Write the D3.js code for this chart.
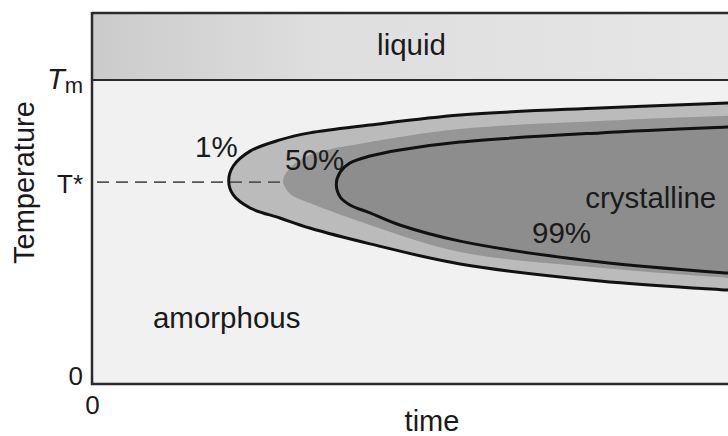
<!DOCTYPE html>
<html><head><meta charset="utf-8">
<script src="https://cdn.jsdelivr.net/npm/d3@7/dist/d3.min.js"></script>
<style>
html,body{margin:0;padding:0;background:#fff;}
svg text{font-family:"Liberation Sans",Arial,Helvetica,sans-serif;fill:#1a1a1a;}
</style></head>
<body>
<svg id="chart" width="728" height="436"></svg>
<script>
// ---- data (time in arbitrary units, temperature with Tm = 100) ----
const tMelt = 100;
const tStar = 66.4;
const tTop = 122;
const timeMax = 100;

// 1% transformation curve (top-right -> nose -> bottom-right)
const curve1 = [[103.1,92.8],[98.1,92.4],[78.4,90.8],[56.8,88.5],[42.9,85.2],[33.6,82.6],[29.0,80.3],[24.4,76.6],[21.8,71.7],[21.1,66.8],[21.8,62.2],[24.4,57.9],[29.0,54.6],[33.6,51.3],[42.9,46.1],[56.8,39.5],[78.4,33.9],[98.1,30.9],[103.1,30.3]];
// 50% transformation boundary
const curve50 = [[103.1,88.5],[98.1,88.2],[78.4,86.5],[56.8,83.9],[42.9,79.6],[33.6,75.3],[30.6,71.1],[29.5,66.8],[30.6,62.5],[33.6,59.5],[42.9,52.3],[56.8,43.4],[78.4,38.2],[98.1,34.9],[103.1,34.2]];
// 99% transformation curve
const curve99 = [[103.1,84.9],[98.1,84.5],[78.4,82.6],[56.8,79.6],[47.5,77.0],[42.9,75.0],[39.8,72.7],[38.3,69.7],[37.7,65.8],[38.3,61.5],[39.8,58.9],[42.9,56.3],[47.5,52.3],[56.8,47.0],[78.4,40.1],[98.1,36.5],[103.1,35.9]];

const yTickValues = [0, tStar, tMelt];
const yTickLabels = ["0", "T*", "Tm"];
const xTickValues = [0];
const xTickLabels = ["0"];

const regionLabels = [
  {text:"liquid", t:44.0, T:108.2},
  {text:"amorphous", t:9.4, T:18.4},
  {text:"1%", t:15.9, T:74.7},
  {text:"50%", t:29.8, T:70.4},
  {text:"crystalline", t:76.1, T:57.9},
  {text:"99%", t:67.9, T:46.4}
];

// ---- layout ----
const svg = d3.select("#chart");
const x = d3.scaleLinear().domain([0, timeMax]).range([92, 740]);
const y = d3.scaleLinear().domain([0, tMelt]).range([384, 80]);

const defs = svg.append("defs");
const grad = defs.append("linearGradient").attr("id","liq").attr("x1","0").attr("x2","1").attr("y1","0").attr("y2","0");
grad.append("stop").attr("offset","0").attr("stop-color","#cbcbcb");
grad.append("stop").attr("offset","0.35").attr("stop-color","#dedede");
grad.append("stop").attr("offset","1").attr("stop-color","#e6e6e6");
defs.append("clipPath").attr("id","plotclip").append("rect")
  .attr("x", x(0)).attr("y", y(tTop)).attr("width", 728 - x(0)).attr("height", y(0) - y(tTop));

// backgrounds
svg.append("rect").attr("x", x(0)).attr("y", y(tMelt)).attr("width", 728 - x(0)).attr("height", y(0) - y(tMelt)).attr("fill", "#f1f1f1");
svg.append("rect").attr("x", x(0)).attr("y", y(tTop)).attr("width", 728 - x(0)).attr("height", y(tMelt) - y(tTop)).attr("fill", "url(#liq)");

const g = svg.append("g").attr("clip-path","url(#plotclip)");
const line = d3.line().x(d => x(d[0])).y(d => y(d[1])).curve(d3.curveCatmullRom.alpha(0.5));

g.append("path").attr("d", line(curve1) + "Z").attr("fill", "#bbbbbb");
g.append("path").attr("d", line(curve50) + "Z").attr("fill", "#969696");
g.append("path").attr("d", line(curve99) + "Z").attr("fill", "#8d8d8d");

// T* dashed line up to the 50% boundary
g.append("line").attr("x1", x(0) + 5).attr("x2", x(curve50[7][0])).attr("y1", y(tStar)).attr("y2", y(tStar))
  .attr("stroke", "#555").attr("stroke-width", 1.6).attr("stroke-dasharray", "12,7");

g.append("path").attr("d", line(curve1)).attr("fill", "none").attr("stroke", "#111").attr("stroke-width", 3);
g.append("path").attr("d", line(curve99)).attr("fill", "none").attr("stroke", "#111").attr("stroke-width", 3);

// frame lines
const lc = "#2b2b2b";
svg.append("line").attr("x1", x(0)).attr("x2", 728).attr("y1", y(tTop)).attr("y2", y(tTop)).attr("stroke", lc).attr("stroke-width", 2.5);
svg.append("line").attr("x1", x(0)).attr("x2", 728).attr("y1", y(tMelt)).attr("y2", y(tMelt)).attr("stroke", lc).attr("stroke-width", 2);

// axes
const yAxis = d3.axisLeft(y).tickValues(yTickValues).tickSize(0).tickPadding(9)
  .tickFormat((d,i) => yTickLabels[i]);
const ya = svg.append("g").attr("transform", `translate(${x(0)},0)`).call(yAxis);
ya.select(".domain").remove();
ya.selectAll("text").style("font-size","26px").attr("fill","#1a1a1a");
ya.selectAll(".tick").filter(d => d === 0).select("text").attr("dy","0.0em");
ya.selectAll(".tick").filter(d => d === tMelt).select("text").each(function(){
  const t = d3.select(this); t.text(null);
  t.append("tspan").text("T").style("font-style","italic").style("font-size","29px");
  t.append("tspan").text("m").attr("dy","4").style("font-size","22px");
});
ya.selectAll(".tick").filter(d => d === tStar).select("text").attr("dy","0.4em");

const xAxis = d3.axisBottom(x).tickValues(xTickValues).tickSize(0).tickPadding(12)
  .tickFormat((d,i) => xTickLabels[i]);
const xa = svg.append("g").attr("transform", `translate(0,${y(0)})`).call(xAxis);
xa.select(".domain").remove();
xa.selectAll("text").style("font-size","26px").attr("fill","#1a1a1a");

svg.append("line").attr("x1", x(0)).attr("x2", x(0)).attr("y1", y(tTop) - 1).attr("y2", y(0) + 1).attr("stroke", lc).attr("stroke-width", 2.5);
svg.append("line").attr("x1", x(0) - 1).attr("x2", 728).attr("y1", y(0)).attr("y2", y(0)).attr("stroke", lc).attr("stroke-width", 2.5);

// axis titles
svg.append("text").text("Temperature").attr("transform", `translate(34,${(y(0)+y(tTop))/2 - 16}) rotate(-90)`)
  .attr("text-anchor","middle").style("font-size","29px");
svg.append("text").text("time").attr("x", 432).attr("y", 431).attr("text-anchor","middle").style("font-size","29px");

// region labels
svg.selectAll("text.region").data(regionLabels).join("text").attr("class","region")
  .attr("x", d => x(d.t)).attr("y", d => y(d.T)).text(d => d.text).style("font-size","29.5px");
</script>
</body></html>
